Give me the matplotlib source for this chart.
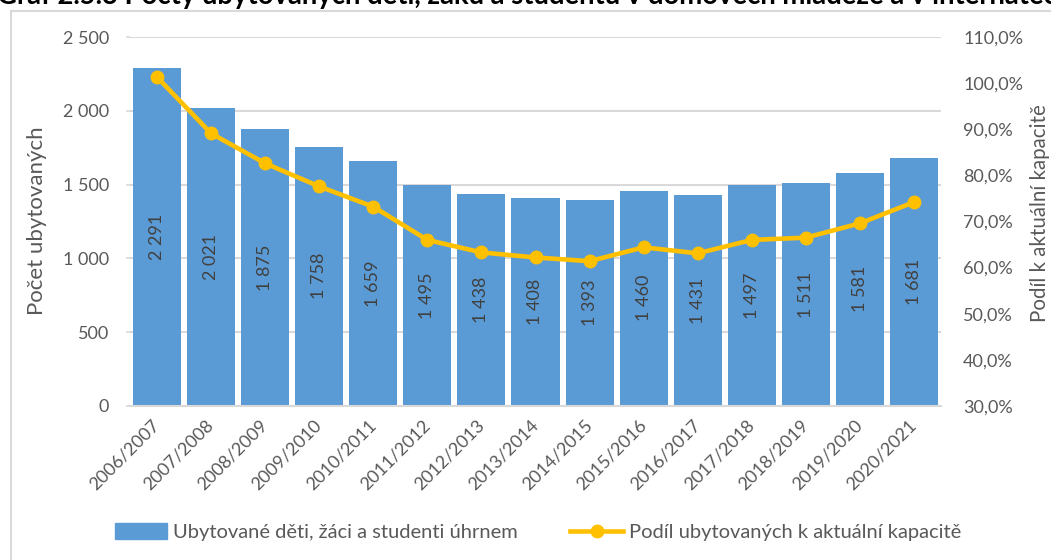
import matplotlib
matplotlib.use("Agg")
import matplotlib.pyplot as plt
from matplotlib.patches import Rectangle, Patch
from matplotlib.lines import Line2D
from matplotlib.ticker import FuncFormatter, FixedLocator
import numpy as np

plt.rcParams['font.family'] = ['Lato', 'DejaVu Sans']

# ---- data ----
years = ["2006/2007", "2007/2008", "2008/2009", "2009/2010", "2010/2011",
         "2011/2012", "2012/2013", "2013/2014", "2014/2015", "2015/2016",
         "2016/2017", "2017/2018", "2018/2019", "2019/2020", "2020/2021"]
accommodated = [2291, 2021, 1875, 1758, 1659, 1495, 1438, 1408, 1393, 1460,
                1431, 1497, 1511, 1581, 1681]
share_pct = [101.3, 89.1, 82.6, 77.6, 73.2, 66.0, 63.3, 62.2, 61.4, 64.4,
             63.1, 66.0, 66.5, 69.6, 74.2]
left_ticks = [0, 500, 1000, 1500, 2000, 2500]
right_ticks = [30, 40, 50, 60, 70, 80, 90, 100, 110]

title = "Graf 2.5.3 Počty ubytovaných dětí, žáků a studentů v domovech mládeže a v internátech"
title_visible = "Graf 2.5.3 Počty ubytovaných dětí, žáků a studentů v domovech mládeže a v internáte"
bar_label = "Ubytované děti, žáci a studenti úhrnem"
line_label = "Podíl ubytovaných k aktuální kapacitě"
left_ylabel = "Počet ubytovaných"
right_ylabel = "Podíl k aktuální kapacitě"

BLUE = "#5B9BD5"
GOLD = "#FFC000"
TXT = "#595959"
GRID = "#D9D9D9"

W, H = 1051, 560
fig = plt.figure(figsize=(W / 100, H / 100), dpi=100)
fig.patch.set_facecolor("white")

ax = fig.add_axes([130 / W, 1 - 406 / H, (941 - 130) / W, (406 - 37) / H])
x = np.arange(len(years))

ax.bar(x, accommodated, width=0.89, color=BLUE, zorder=2)
ax.set_xlim(-0.5, len(years) - 0.5)
ax.set_ylim(0, 2500)
ax.yaxis.set_major_locator(FixedLocator(left_ticks))
ax.yaxis.set_major_formatter(FuncFormatter(lambda v, p: f"{int(v):,}".replace(",", " ")))
ax.grid(axis="y", color=GRID, lw=1.5, zorder=0)
ax.set_axisbelow(True)
for s in ["top", "right", "left"]:
    ax.spines[s].set_visible(False)
ax.spines["bottom"].set_color(GRID)
ax.spines["bottom"].set_linewidth(1.5)
ax.tick_params(axis="y", length=3, color=GRID, width=1.2, pad=12,
               labelsize=13, labelcolor=TXT)
ax.set_xticks(x)
ax.set_xticklabels(years, rotation=45, ha="right", va="center",
                   rotation_mode="anchor")
ax.tick_params(axis="x", length=0, pad=12, labelsize=13, labelcolor=TXT)

for xi, v in zip(x, accommodated):
    ax.text(xi, v / 2, f"{v:,}".replace(",", " "), rotation=90,
            ha="center", va="center", fontsize=13, color="#404040", zorder=3)

ax2 = ax.twinx()
ax2.plot(x, share_pct, color=GOLD, lw=3.3, marker="o", markersize=9,
         solid_capstyle="round", zorder=4)
ax2.set_ylim(30, 110)
ax2.yaxis.set_major_locator(FixedLocator(right_ticks))
ax2.yaxis.set_major_formatter(FuncFormatter(lambda v, p: f"{v:.1f}".replace(".", ",") + "%"))
for s in ["top", "right", "left", "bottom"]:
    ax2.spines[s].set_visible(False)
ax2.tick_params(axis="y", length=0, pad=16, labelsize=13, labelcolor=TXT)

fig.text(37 / W, 1 - 221 / H, left_ylabel, rotation=90, ha="center", va="center",
         fontsize=16, color=TXT)
fig.text(1040 / W, 1 - 213 / H, right_ylabel, rotation=90, ha="center", va="center",
         fontsize=14.8, color=TXT)

handles = [Patch(facecolor=BLUE, edgecolor=BLUE),
           Line2D([0], [0], color=GOLD, lw=3.3, marker="o", markersize=9)]
fig.legend(handles, [bar_label, line_label], ncol=2, loc="center",
           bbox_to_anchor=(538 / W, 1 - 532 / H), frameon=False,
           fontsize=14.5, labelcolor=TXT, handlelength=2.6, handletextpad=0.3,
           columnspacing=2.6, handleheight=0.8)

# chart frame
fig.add_artist(Rectangle((11 / W, -0.1), 1.2, 1 - 11 / H + 0.1,
                         transform=fig.transFigure, fill=False,
                         edgecolor=GRID, lw=1.5))

# cropped title at top: size it so the visible part spans the figure width
renderer = fig.canvas.get_renderer()
probe = fig.text(0, 0.5, title_visible, fontsize=10, fontweight="bold")
wpx = probe.get_window_extent(renderer).width
probe.remove()
tsize = 10 * (W + 3) / wpx
fig.text(-3 / W, 1 - 4 / H, title, ha="left", va="baseline", fontsize=tsize,
         fontweight="bold", color="black")

fig.savefig("out.png", dpi=100)
